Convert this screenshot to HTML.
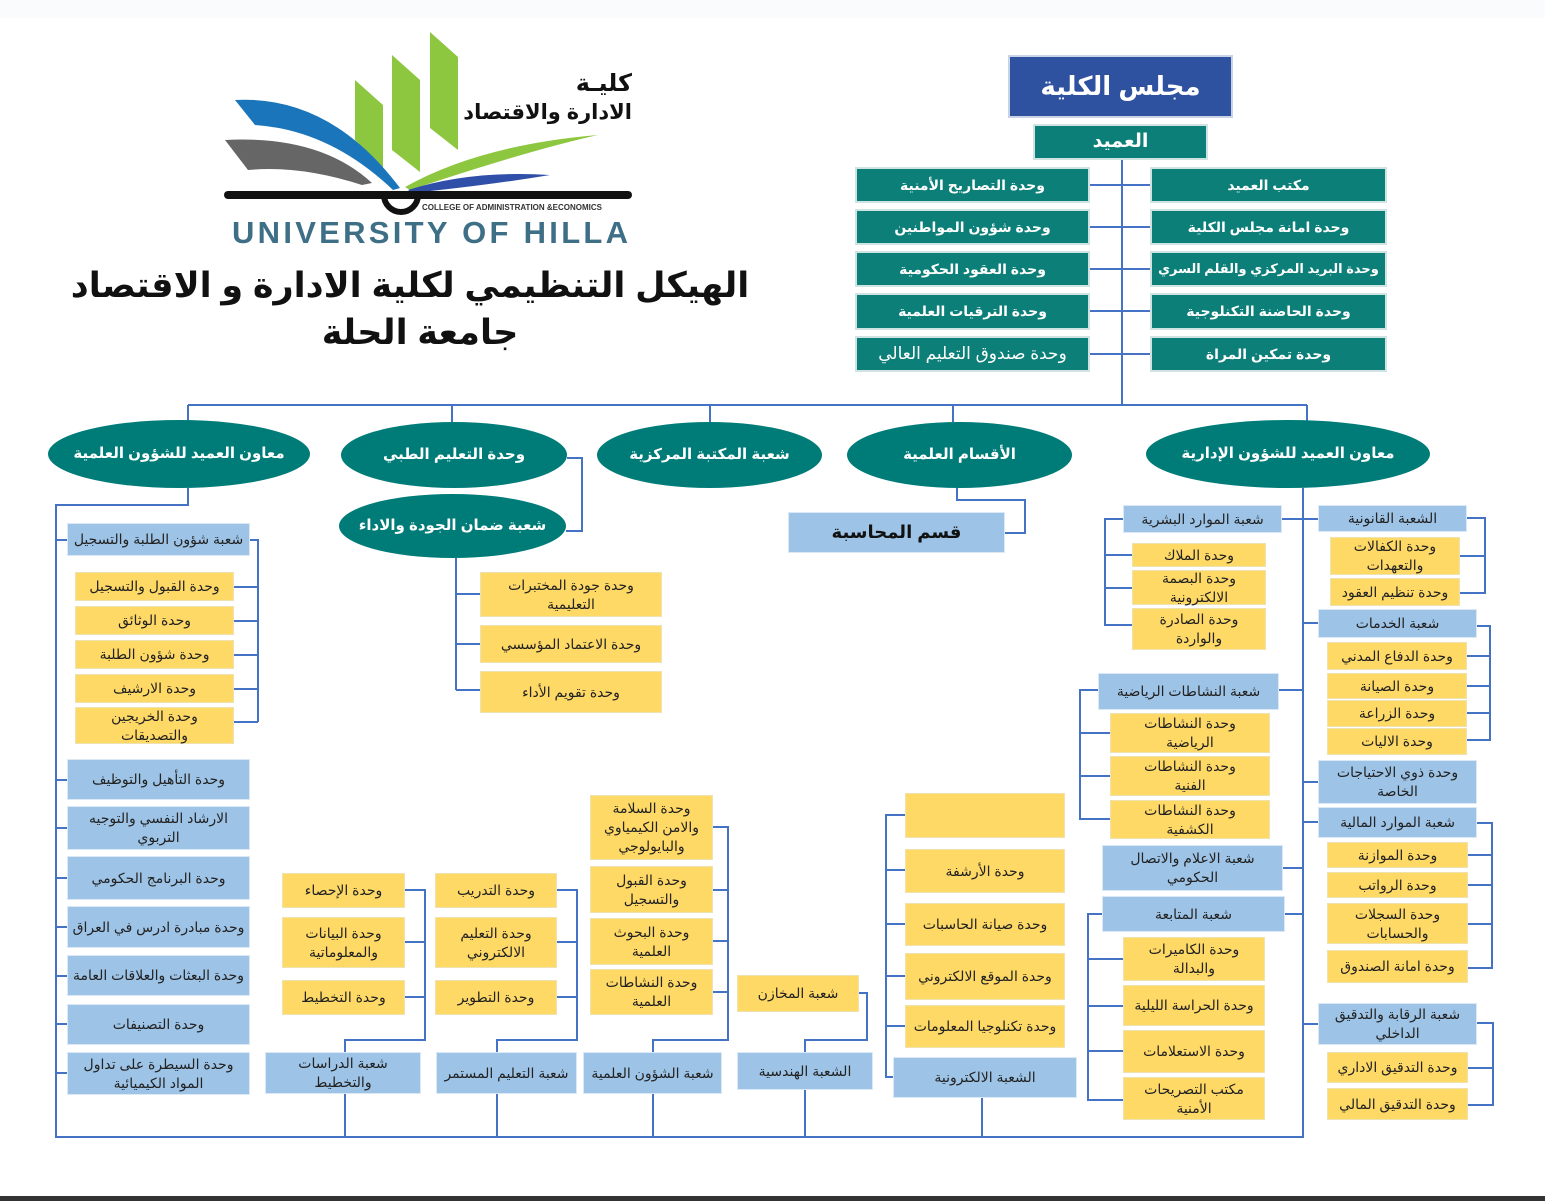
<!DOCTYPE html>
<html><head><meta charset="utf-8"><style>
body{margin:0;background:#fff;}
#w{position:relative;width:1545px;height:1201px;overflow:hidden;background:#fff;font-family:"Liberation Sans","DejaVu Sans",sans-serif;}
.b{position:absolute;display:flex;align-items:center;justify-content:center;text-align:center;box-sizing:border-box;font-size:14px;line-height:1.35;color:#222;direction:rtl;}
.y{background:#ffd966;border:1px solid #eee3b0;}
.u{background:#9dc3e6;border:1px solid #dbe8f5;}
.t{background:#0b7f78;color:#fff;font-weight:bold;font-size:14px;border:2px solid #cfe3e2;white-space:nowrap;}
.e{background:#007c78;color:#fff;font-weight:bold;font-size:15px;border-radius:50%;}
svg{position:absolute;left:0;top:0;}
</style></head><body><div id="w">
<svg width="1545" height="1201">
<rect x="0" y="0" width="1545" height="18" fill="#fafbfd"/>
<rect x="0" y="1196" width="1545" height="5" fill="#333"/>
<g fill="none" stroke="#4472c4" stroke-width="2">
<path d="M1122 160V405M1090 185H1150M1090 227H1150M1090 269H1150M1090 311H1150M1090 354H1150"/>
<path d="M188 405H1307M188 405V425M452 405V425M710 405V425M953 405V425M1307 405V425"/>
<path d="M188 488V505H56V1137H1303V488"/>
<path d="M56 540H67M56 780H67M56 828H67M56 878H67M56 927H67M56 976H67M56 1024H67M56 1073H67"/>
<path d="M250 540H258V722M234 587H258M234 621H258M234 655H258M234 689H258M234 722H258"/>
<path d="M567 458H582V531H566"/>
<path d="M456 558V690M456 594H480M456 644H480M456 690H480"/>
<path d="M957 488V500H1025V533H1005"/>
<path d="M405 890H425V1040H345V1052M405 942H425M405 997H425M345 1094V1137"/>
<path d="M557 890H577V1040H497V1052M557 942H577M557 997H577M497 1094V1137"/>
<path d="M713 827H728V1040H653V1052M713 890H728M713 941H728M713 992H728M653 1094V1137"/>
<path d="M859 993H867V1040H805V1052M805 1090V1137"/>
<path d="M905 815H886V1077H893M886 870H905M886 924H905M886 976H905M886 1026H905M982 1098V1137"/>
<path d="M1303 519H1318M1282 519H1303M1303 623H1318M1303 782H1318M1303 822H1318M1303 1024H1318"/>
<path d="M1279 690H1303M1283 868H1303M1285 914H1303"/>
<path d="M1123 519H1105V625H1132M1105 555H1132M1105 588H1132"/>
<path d="M1098 690H1080V819H1110M1080 733H1110M1080 776H1110"/>
<path d="M1102 914H1088V1100H1123M1088 959H1123M1088 1006H1123M1088 1051H1123"/>
<path d="M1467 518H1485V593H1460M1460 556H1485"/>
<path d="M1477 626H1490V740H1467M1467 656H1490M1467 686H1490M1467 713H1490"/>
<path d="M1477 823H1492V968H1468M1468 855H1492M1468 885H1492M1468 924H1492"/>
<path d="M1477 1023H1493V1105H1468M1468 1068H1493"/>
</g>
<polygon points="355,80 383,105 383,168 355,140" fill="#8dc63f"/>
<polygon points="392,55 420,80 420,172 392,150" fill="#8dc63f"/>
<polygon points="430,32 458,57 458,150 430,128" fill="#8dc63f"/>
<path d="M235 100 Q330 95 400 188 L393 190 Q330 130 255 125 Z" fill="#1a75bb"/>
<path d="M225 140 Q320 135 372 183 L362 185 Q300 165 248 170 Z" fill="#666"/>
<path d="M405 187 Q480 145 598 135 Q530 150 410 190 Z" fill="#8dc63f"/>
<path d="M408 190 Q470 170 550 175 Q490 185 412 193 Z" fill="#2f4fa8"/>
<rect x="224" y="191" width="408" height="8" rx="4" fill="#111"/>
<path d="M384 195 A17 17 0 0 0 418 195" fill="none" stroke="#111" stroke-width="6"/>
<text x="422" y="210" font-size="8" font-weight="bold" fill="#333" font-family="Liberation Sans">COLLEGE OF ADMINISTRATION &amp;ECONOMICS</text>
<text x="232" y="243" font-size="31" font-weight="bold" fill="#3e6f86" font-family="Liberation Sans" letter-spacing="2" textLength="398">UNIVERSITY OF HILLA</text>
</svg>
<div class="b" style="left:455px;top:70px;width:177px;height:28px;justify-content:flex-start;font-size:24px;font-weight:bold;color:#111;">كليـة</div>
<div class="b" style="left:455px;top:98px;width:177px;height:30px;justify-content:flex-start;font-size:21px;font-weight:bold;color:#111;white-space:nowrap;">الادارة والاقتصاد</div>
<div class="b" style="left:20px;top:262px;width:780px;height:48px;font-size:35px;font-weight:bold;color:#111;">الهيكل التنظيمي لكلية الادارة و الاقتصاد</div>
<div class="b" style="left:20px;top:310px;width:800px;height:46px;font-size:35px;font-weight:bold;color:#111;">جامعة الحلة</div>

<div class="b" style="left:1008px;top:55px;width:225px;height:63px;background:#2f52a0;color:#fff;font-size:26px;font-weight:bold;border:2px solid #c9d3e8;">مجلس الكلية</div>
<div class="b t" style="left:1033px;top:124px;width:175px;height:36px;font-size:19px;">العميد</div>
<div class="b t" style="left:1150px;top:167px;width:237px;height:36px;">مكتب العميد</div>
<div class="b t" style="left:1150px;top:209px;width:237px;height:36px;">وحدة امانة مجلس الكلية</div>
<div class="b t" style="left:1150px;top:251px;width:237px;height:36px;font-size:13px;">وحدة البريد المركزي والقلم السري</div>
<div class="b t" style="left:1150px;top:293px;width:237px;height:37px;">وحدة الحاضنة التكنلوجية</div>
<div class="b t" style="left:1150px;top:336px;width:237px;height:36px;">وحدة تمكين المراة</div>
<div class="b t" style="left:855px;top:167px;width:235px;height:36px;">وحدة التصاريح الأمنية</div>
<div class="b t" style="left:855px;top:209px;width:235px;height:36px;">وحدة شؤون المواطنين</div>
<div class="b t" style="left:855px;top:251px;width:235px;height:36px;">وحدة العقود الحكومية</div>
<div class="b t" style="left:855px;top:293px;width:235px;height:37px;">وحدة الترقيات العلمية</div>
<div class="b t" style="left:855px;top:336px;width:235px;height:36px;font-weight:normal;font-size:17px;">وحدة صندوق التعليم العالي</div>

<div class="b e" style="left:48px;top:420px;width:262px;height:68px;">معاون العميد للشؤون العلمية</div>
<div class="b e" style="left:341px;top:422px;width:226px;height:66px;">وحدة التعليم الطبي</div>
<div class="b e" style="left:597px;top:422px;width:225px;height:66px;">شعبة المكتبة المركزية</div>
<div class="b e" style="left:847px;top:422px;width:225px;height:66px;">الأقسام العلمية</div>
<div class="b e" style="left:1146px;top:420px;width:284px;height:68px;">معاون العميد للشؤون الإدارية</div>
<div class="b e" style="left:339px;top:494px;width:227px;height:64px;">شعبة ضمان الجودة والاداء</div>

<div class="b u" style="left:788px;top:512px;width:217px;height:41px;font-size:18px;font-weight:bold;color:#111;">قسم المحاسبة</div>

<div class="b u" style="left:67px;top:523px;width:183px;height:33px;">شعبة شؤون الطلبة والتسجيل</div>
<div class="b y" style="left:75px;top:572px;width:159px;height:29px;">وحدة القبول والتسجيل</div>
<div class="b y" style="left:75px;top:606px;width:159px;height:29px;">وحدة الوثائق</div>
<div class="b y" style="left:75px;top:640px;width:159px;height:29px;">وحدة شؤون الطلبة</div>
<div class="b y" style="left:75px;top:674px;width:159px;height:29px;">وحدة الارشيف</div>
<div class="b y" style="left:75px;top:707px;width:159px;height:37px;">وحدة الخريجين والتصديقات</div>
<div class="b u" style="left:67px;top:759px;width:183px;height:41px;">وحدة التأهيل والتوظيف</div>
<div class="b u" style="left:67px;top:806px;width:183px;height:44px;">الارشاد النفسي والتوجيه التربوي</div>
<div class="b u" style="left:67px;top:856px;width:183px;height:44px;">وحدة البرنامج الحكومي</div>
<div class="b u" style="left:67px;top:906px;width:183px;height:42px;">وحدة مبادرة ادرس في العراق</div>
<div class="b u" style="left:67px;top:955px;width:183px;height:41px;">وحدة البعثات والعلاقات العامة</div>
<div class="b u" style="left:67px;top:1004px;width:183px;height:41px;">وحدة التصنيفات</div>
<div class="b u" style="left:67px;top:1052px;width:183px;height:43px;">وحدة السيطرة على تداول المواد الكيميائية</div>

<div class="b y" style="left:480px;top:572px;width:182px;height:45px;padding:0 25px;">وحدة جودة المختبرات التعليمية</div>
<div class="b y" style="left:480px;top:625px;width:182px;height:38px;">وحدة الاعتماد المؤسسي</div>
<div class="b y" style="left:480px;top:671px;width:182px;height:42px;">وحدة تقويم الأداء</div>

<div class="b y" style="left:282px;top:873px;width:123px;height:35px;">وحدة الإحصاء</div>
<div class="b y" style="left:282px;top:917px;width:123px;height:51px;">وحدة البيانات والمعلوماتية</div>
<div class="b y" style="left:282px;top:980px;width:123px;height:35px;">وحدة التخطيط</div>
<div class="b u" style="left:265px;top:1052px;width:156px;height:42px;padding:0 20px;">شعبة الدراسات والتخطيط</div>
<div class="b y" style="left:435px;top:873px;width:122px;height:35px;">وحدة التدريب</div>
<div class="b y" style="left:435px;top:917px;width:122px;height:51px;">وحدة التعليم الالكتروني</div>
<div class="b y" style="left:435px;top:980px;width:122px;height:35px;">وحدة التطوير</div>
<div class="b u" style="left:436px;top:1052px;width:141px;height:42px;">شعبة التعليم المستمر</div>
<div class="b y" style="left:590px;top:795px;width:123px;height:65px;padding:0 8px;">وحدة السلامة والامن الكيمياوي والبايولوجي</div>
<div class="b y" style="left:590px;top:866px;width:123px;height:47px;">وحدة القبول والتسجيل</div>
<div class="b y" style="left:590px;top:918px;width:123px;height:47px;padding:0 20px;">وحدة البحوث العلمية</div>
<div class="b y" style="left:590px;top:969px;width:123px;height:46px;">وحدة النشاطات العلمية</div>
<div class="b u" style="left:583px;top:1052px;width:139px;height:42px;">شعبة الشؤون العلمية</div>
<div class="b y" style="left:737px;top:975px;width:122px;height:37px;">شعبة المخازن</div>
<div class="b u" style="left:737px;top:1052px;width:136px;height:38px;">الشعبة الهندسية</div>
<div class="b y" style="left:905px;top:793px;width:160px;height:45px;"></div>
<div class="b y" style="left:905px;top:849px;width:160px;height:44px;">وحدة الأرشفة</div>
<div class="b y" style="left:905px;top:903px;width:160px;height:43px;">وحدة صيانة الحاسبات</div>
<div class="b y" style="left:905px;top:953px;width:160px;height:47px;">وحدة الموقع الالكتروني</div>
<div class="b y" style="left:905px;top:1005px;width:160px;height:43px;">وحدة تكنلوجيا المعلومات</div>
<div class="b u" style="left:893px;top:1057px;width:184px;height:41px;">الشعبة الالكترونية</div>

<div class="b u" style="left:1123px;top:505px;width:159px;height:28px;">شعبة الموارد البشرية</div>
<div class="b y" style="left:1132px;top:543px;width:134px;height:24px;">وحدة الملاك</div>
<div class="b y" style="left:1132px;top:570px;width:134px;height:35px;">وحدة البصمة الالكترونية</div>
<div class="b y" style="left:1132px;top:608px;width:134px;height:42px;padding:0 15px;">وحدة الصادرة والواردة</div>
<div class="b u" style="left:1098px;top:673px;width:181px;height:37px;">شعبة النشاطات الرياضية</div>
<div class="b y" style="left:1110px;top:713px;width:160px;height:40px;padding:0 25px;">وحدة النشاطات الرياضية</div>
<div class="b y" style="left:1110px;top:756px;width:160px;height:40px;padding:0 30px;">وحدة النشاطات الفنية</div>
<div class="b y" style="left:1110px;top:800px;width:160px;height:39px;padding:0 30px;">وحدة النشاطات الكشفية</div>
<div class="b u" style="left:1102px;top:845px;width:181px;height:46px;">شعبة الاعلام والاتصال الحكومي</div>
<div class="b u" style="left:1102px;top:896px;width:183px;height:36px;">شعبة المتابعة</div>
<div class="b y" style="left:1123px;top:937px;width:142px;height:44px;padding:0 15px;">وحدة الكاميرات والبدالة</div>
<div class="b y" style="left:1123px;top:985px;width:142px;height:41px;">وحدة الحراسة الليلية</div>
<div class="b y" style="left:1123px;top:1030px;width:142px;height:43px;">وحدة الاستعلامات</div>
<div class="b y" style="left:1123px;top:1077px;width:142px;height:43px;padding:0 15px;">مكتب التصريحات الأمنية</div>

<div class="b u" style="left:1318px;top:505px;width:149px;height:27px;">الشعبة القانونية</div>
<div class="b y" style="left:1330px;top:537px;width:130px;height:38px;">وحدة الكفالات والتعهدات</div>
<div class="b y" style="left:1330px;top:578px;width:130px;height:28px;">وحدة تنظيم العقود</div>
<div class="b u" style="left:1318px;top:609px;width:159px;height:29px;">شعبة الخدمات</div>
<div class="b y" style="left:1327px;top:642px;width:140px;height:28px;">وحدة الدفاع المدني</div>
<div class="b y" style="left:1327px;top:673px;width:140px;height:26px;">وحدة الصيانة</div>
<div class="b y" style="left:1327px;top:700px;width:140px;height:27px;">وحدة الزراعة</div>
<div class="b y" style="left:1327px;top:728px;width:140px;height:27px;">وحدة الاليات</div>
<div class="b u" style="left:1318px;top:760px;width:159px;height:44px;">وحدة ذوي الاحتياجات الخاصة</div>
<div class="b u" style="left:1318px;top:807px;width:159px;height:31px;">شعبة الموارد المالية</div>
<div class="b y" style="left:1327px;top:842px;width:141px;height:26px;">وحدة الموازنة</div>
<div class="b y" style="left:1327px;top:872px;width:141px;height:26px;">وحدة الرواتب</div>
<div class="b y" style="left:1327px;top:903px;width:141px;height:41px;">وحدة السجلات والحسابات</div>
<div class="b y" style="left:1327px;top:950px;width:141px;height:33px;">وحدة امانة الصندوق</div>
<div class="b u" style="left:1318px;top:1003px;width:159px;height:42px;">شعبة الرقابة والتدقيق الداخلي</div>
<div class="b y" style="left:1327px;top:1052px;width:141px;height:31px;">وحدة التدقيق الاداري</div>
<div class="b y" style="left:1327px;top:1088px;width:141px;height:32px;">وحدة التدقيق المالي</div>
</div></body></html>
